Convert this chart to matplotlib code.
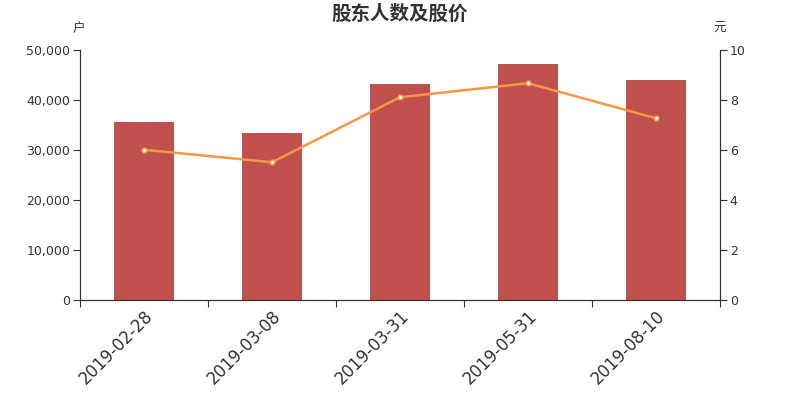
import numpy as np
import matplotlib.pyplot as plt
from matplotlib.ticker import FuncFormatter

plt.rcParams['font.family'] = ['DejaVu Sans', 'Noto Sans CJK SC']

# 数据
dates = ['2019-02-28', '2019-03-08', '2019-03-31', '2019-05-31', '2019-08-10']
holders = [35650, 33450, 43270, 47270, 44000]
prices = [6.01, 5.51, 8.11, 8.67, 7.27]

bar_color = '#c0504d'
line_color = '#f79646'
axis_color = '#333333'

fig = plt.figure(figsize=(8, 4), dpi=100)
ax = fig.add_axes([0.1, 0.25, 0.8, 0.625])
ax2 = ax.twinx()

x = np.arange(len(dates))
ax.bar(x, holders, width=0.47, color=bar_color, zorder=2)
ax2.plot(x, prices, color=line_color, linewidth=1.8, marker='o', markersize=3.5,
         markerfacecolor='white', markeredgecolor=line_color, markeredgewidth=1, zorder=3)

ax.set_xlim(-0.5, len(dates) - 0.5)
ax.set_ylim(0, 50000)
ax2.set_ylim(0, 10)
ax.set_yticks(np.arange(0, 50001, 10000))
ax2.set_yticks(np.arange(0, 11, 2))
ax.yaxis.set_major_formatter(FuncFormatter(lambda v, p: f'{int(v):,}'))

# x 轴刻度在类别边界，标签在类别中心
ax.set_xticks(np.arange(-0.5, len(dates), 1))
ax.set_xticklabels([])
ax.set_xticks(x, minor=True)
ax.set_xticklabels(dates, minor=True, rotation=45, ha='right', va='top',
                   rotation_mode='anchor', fontsize=12, color=axis_color)
ax.tick_params(axis='x', which='minor', length=0, pad=5)
ax.tick_params(axis='x', which='major', length=5, color=axis_color)

ax.tick_params(axis='y', length=5, pad=2, color=axis_color, labelcolor=axis_color, labelsize=9)
ax2.tick_params(axis='y', length=5, pad=2, color=axis_color, labelcolor=axis_color, labelsize=9)

for a in (ax, ax2):
    a.spines['top'].set_visible(False)
    for s in ('left', 'right', 'bottom'):
        a.spines[s].set_color(axis_color)

fig.text(0.5, 0.965, '股东人数及股价', ha='center', va='center', fontsize=14,
         fontweight='bold', color=axis_color, family=['Noto Sans CJK SC'])
fig.text(0.098, 0.928, '户', ha='center', va='center', fontsize=9,
         color=axis_color, family=['Noto Sans CJK SC'])
fig.text(0.899, 0.928, '元', ha='center', va='center', fontsize=9,
         color=axis_color, family=['Noto Sans CJK SC'])

fig.savefig('out.png', dpi=100)
